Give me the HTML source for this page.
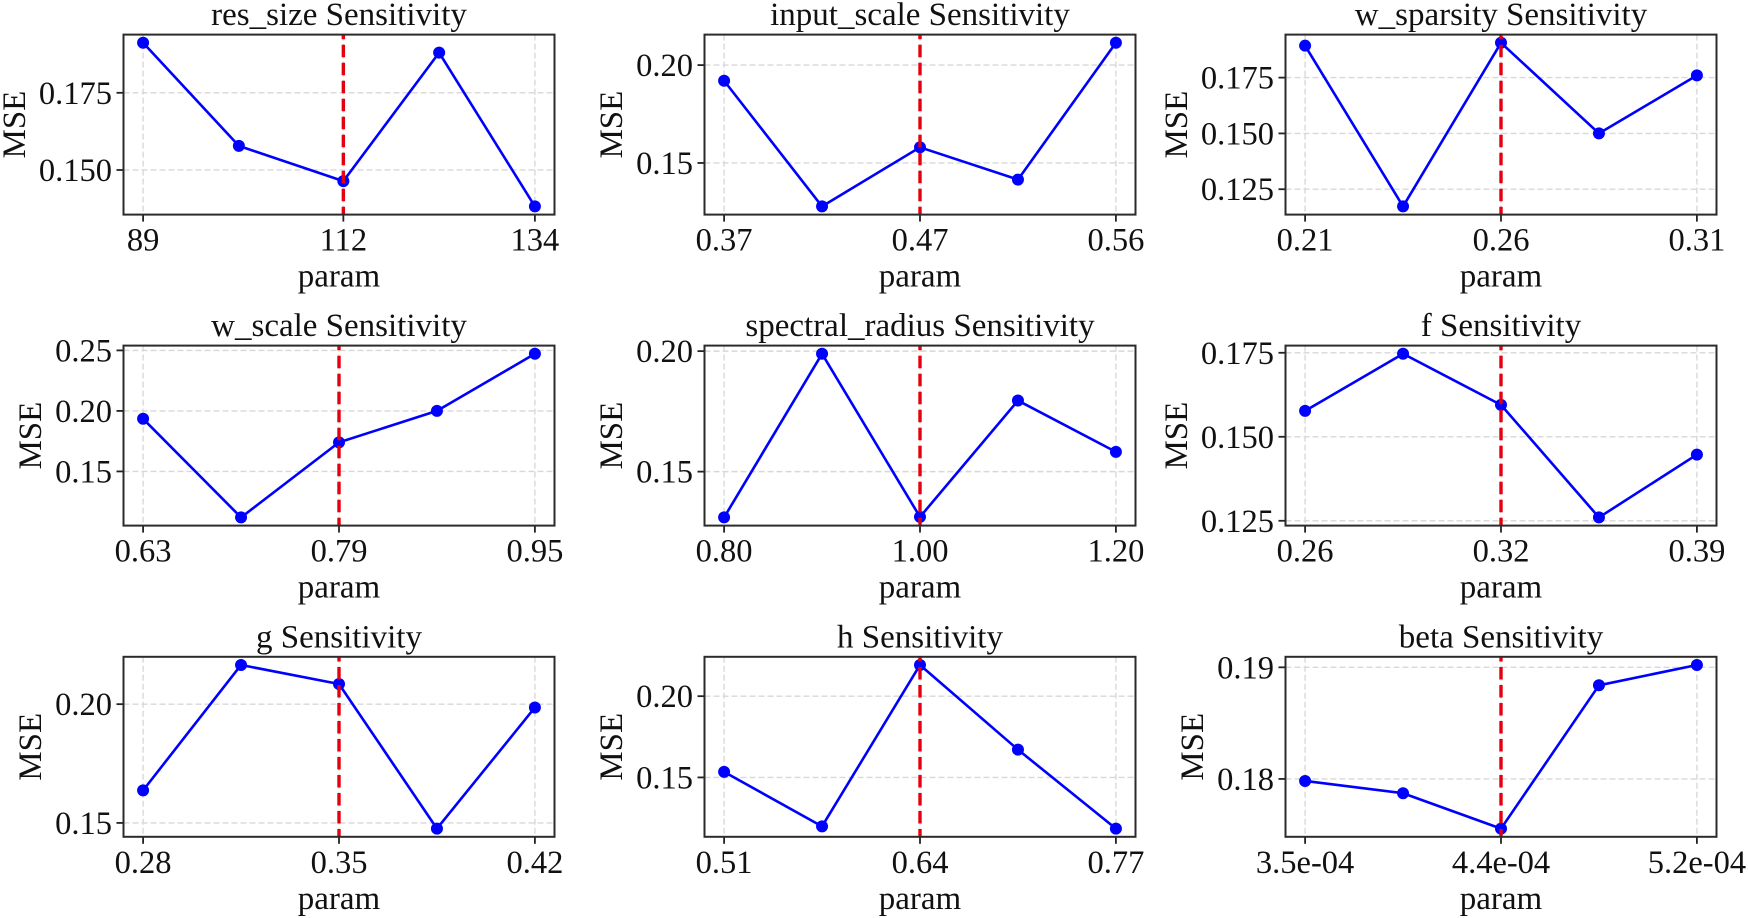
<!DOCTYPE html>
<html lang="en">
<head>
<meta charset="utf-8">
<title>Parameter Sensitivity Charts</title>
<style>
html,body{margin:0;padding:0;background:#fff;}
svg{display:block;}
text{font-family:"Liberation Serif",serif;fill:#111;}
</style>
</head>
<body>
<svg id="chart" width="1748" height="918" viewBox="0 0 1748 918" xmlns="http://www.w3.org/2000/svg"></svg>
<script>
// Sampled parameter values (x positions)
const resSizeParam = [89, 100, 112, 123, 134];
const inputScaleParam = [0.372, 0.419, 0.466, 0.513, 0.560];
const wSparsityParam = [0.21, 0.235, 0.26, 0.285, 0.31];
const wScaleParam = [0.632, 0.711, 0.79, 0.869, 0.948];
const spectralRadiusParam = [0.8, 0.9, 1.0, 1.1, 1.2];
const fParam = [0.258, 0.2905, 0.323, 0.3555, 0.388];
const gParam = [0.28, 0.315, 0.35, 0.385, 0.42];
const hParam = [0.512, 0.576, 0.64, 0.704, 0.768];
const betaParam = [3.52e-4, 3.94e-4, 4.36e-4, 4.78e-4, 5.2e-4];

// Series values
const resSizeMse = [0.1912, 0.1578, 0.1464, 0.1880, 0.1382];
const inputScaleMse = [0.1920, 0.1278, 0.1580, 0.1415, 0.2114];
const wSparsityMse = [0.1893, 0.1173, 0.1906, 0.1500, 0.1760];
const wScaleMse = [0.1935, 0.1120, 0.1740, 0.2000, 0.2472];
const spectralRadiusMse = [0.1310, 0.1989, 0.1312, 0.1795, 0.1582];
const fMse = [0.1577, 0.1747, 0.1595, 0.1260, 0.1447];
const gMse = [0.1637, 0.2165, 0.2085, 0.1476, 0.1986];
const hMse = [0.1534, 0.1199, 0.2192, 0.1671, 0.1185];
const betaMse = [0.17982, 0.17872, 0.17555, 0.18839, 0.19021];

// X tick labels (first, middle, last of the five sampled parameter values)
const resSizeX = ["89", "112", "134"];
const inputScaleX = ["0.37", "0.47", "0.56"];
const wSparsityX = ["0.21", "0.26", "0.31"];
const wScaleX = ["0.63", "0.79", "0.95"];
const spectralRadiusX = ["0.80", "1.00", "1.20"];
const fX = ["0.26", "0.32", "0.39"];
const gX = ["0.28", "0.35", "0.42"];
const hX = ["0.51", "0.64", "0.77"];
const betaX = ["3.5e-04", "4.4e-04", "5.2e-04"];

// Y tick values
const resSizeY = [0.150, 0.175];
const inputScaleY = [0.15, 0.20];
const wSparsityY = [0.125, 0.150, 0.175];
const wScaleY = [0.15, 0.20, 0.25];
const spectralRadiusY = [0.15, 0.20];
const fY = [0.125, 0.150, 0.175];
const gY = [0.15, 0.20];
const hY = [0.15, 0.20];
const betaY = [0.18, 0.19];

const paramNames = ["res_size", "input_scale", "w_sparsity", "w_scale", "spectral_radius", "f", "g", "h", "beta"];
const paramList = [resSizeParam, inputScaleParam, wSparsityParam, wScaleParam, spectralRadiusParam, fParam, gParam, hParam, betaParam];
const seriesList = [resSizeMse, inputScaleMse, wSparsityMse, wScaleMse, spectralRadiusMse, fMse, gMse, hMse, betaMse];
const xTickList = [resSizeX, inputScaleX, wSparsityX, wScaleX, spectralRadiusX, fX, gX, hX, betaX];
const yTickList = [resSizeY, inputScaleY, wSparsityY, wScaleY, spectralRadiusY, fY, gY, hY, betaY];
const yDecimals = [3, 2, 3, 2, 2, 3, 2, 2, 2];
const bestIndex = 2;

const NS = "http://www.w3.org/2000/svg";
const root = document.getElementById("chart");
const PLOT_W = 431, PLOT_H = 180;
const LEFTS = [123.5, 704.5, 1285.5];
const TOPS = [34.6, 345.6, 656.8];

function make(tag, parent, attrs, txt) {
  const el = document.createElementNS(NS, tag);
  for (const k in attrs) el.setAttribute(k, attrs[k]);
  if (txt !== undefined) el.textContent = txt;
  parent.appendChild(el);
  return el;
}

function xScale(v, params, left) {
  const lo = Math.min.apply(null, params);
  const hi = Math.max.apply(null, params);
  const m = (hi - lo) * 0.05;
  return left + (v - (lo - m)) / (hi - lo + 2 * m) * PLOT_W;
}

function yScale(v, values, top) {
  const lo = Math.min.apply(null, values);
  const hi = Math.max.apply(null, values);
  const m = (hi - lo) * 0.05;
  return top + PLOT_H - (v - (lo - m)) / (hi - lo + 2 * m) * PLOT_H;
}

paramNames.forEach(function (name, p) {
  const left = LEFTS[p % 3];
  const top = TOPS[Math.floor(p / 3)];
  const bottom = top + PLOT_H;
  const right = left + PLOT_W;
  const values = seriesList[p];
  const params = paramList[p];
  const slug = name.replace(/_/g, "-");

  const g = make("g", root, {});
  
  

  // Grid and ticks — X
  xTickList[p].forEach(function (label, t) {
    const x = xScale(params[t * 2], params, left);
    const grid = make("line", g, {x1: x, x2: x, y1: top, y2: bottom, stroke: "#d8d8d8", "stroke-width": 1.4, "stroke-dasharray": "6 3"});
    
    
    const tick = make("line", g, {x1: x, x2: x, y1: bottom, y2: bottom + 7, stroke: "#222", "stroke-width": 1.8});
    
    
    const tl = make("text", g, {x: x, y: bottom + 36, "text-anchor": "middle", "font-size": 32.5}, label);
    
    
  });

  // Grid and ticks — Y
  yTickList[p].forEach(function (v) {
    const y = yScale(v, values, top);
    const grid = make("line", g, {x1: left, x2: right, y1: y, y2: y, stroke: "#d8d8d8", "stroke-width": 1.4, "stroke-dasharray": "6 3"});
    
    
    const tick = make("line", g, {x1: left - 7, x2: left, y1: y, y2: y, stroke: "#222", "stroke-width": 1.8});
    
    
    const tl = make("text", g, {x: left - 11.5, y: y + 11, "text-anchor": "end", "font-size": 32.5}, v.toFixed(yDecimals[p]));
    
    
  });

  // Series line
  const pts = values.map(function (v, i) {
    return xScale(params[i], params, left).toFixed(2) + "," + yScale(v, values, top).toFixed(2);
  }).join(" ");
  const line = make("polyline", g, {points: pts, fill: "none", stroke: "#0000ff", "stroke-width": 2.6, "stroke-linejoin": "round"});
  
  

  // Series points
  values.forEach(function (v, i) {
    const c = make("circle", g, {cx: xScale(params[i], params, left), cy: yScale(v, values, top), r: 6, fill: "#0000ff"});
    
    
  });

  // Best-value marker
  const bx = xScale(params[bestIndex], params, left);
  const best = make("line", g, {x1: bx, x2: bx, y1: top, y2: bottom, stroke: "#e4000f", "stroke-width": 3.4, "stroke-dasharray": "12.5 5.5", "stroke-dashoffset": 7.8});
  
  

  // Frame
  const frame = make("rect", g, {x: left, y: top, width: PLOT_W, height: PLOT_H, fill: "none", stroke: "#2b2b2b", "stroke-width": 2});
  
  

  // Labels
  const title = make("text", g, {x: left + PLOT_W / 2, y: top - 9.5, "text-anchor": "middle", "font-size": 33}, name + " Sensitivity");
  
  

  const xl = make("text", g, {x: left + PLOT_W / 2, y: bottom + 72, "text-anchor": "middle", "font-size": 33}, "param");
  
  

  const off = yDecimals[p] === 3 ? 98.5 : 82.5;
  const ylx = left - off;
  const ylc = top + PLOT_H / 2;
  const yl = make("text", g, {x: ylx, y: ylc, "text-anchor": "middle", "font-size": 33, transform: "rotate(-90 " + ylx + " " + ylc + ")"}, "MSE");
  
  
});
</script>
</body>
</html>
